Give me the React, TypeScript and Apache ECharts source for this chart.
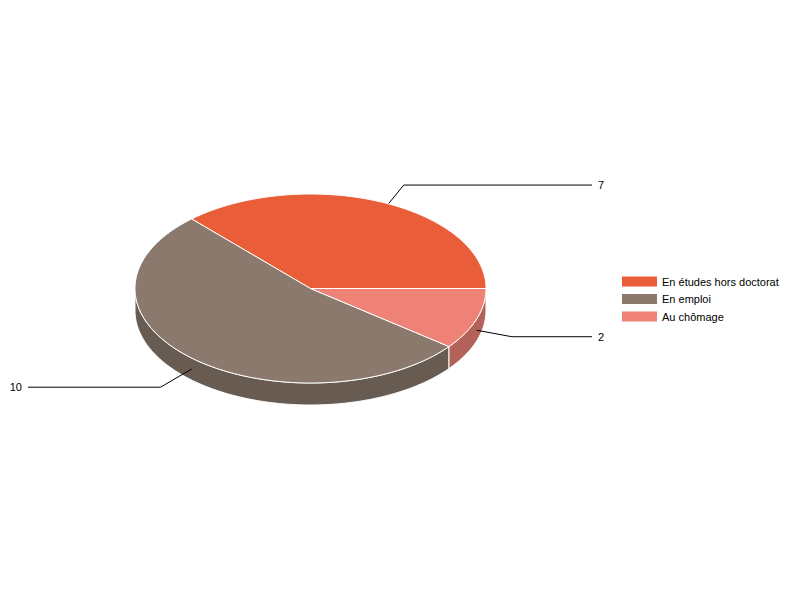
import React, { useEffect, useRef } from 'react';
import * as echarts from 'echarts';

// données
const CATEGORIES = ['En études hors doctorat', 'En emploi', 'Au chômage'];
const VALUES = [7, 10, 2];
const COLORS = ['#E95E38', '#8A796C', '#EE8276'];

// géométrie du camembert 3D (pixels)
const CX = 310.5;
const CY = 288.5;
const RX = 175.5;
const RY = 94.5;
const DEPTH = 22;
const SIDE_SHADE = 0.75;
const LEADER_LEN = 36;
const FONT = '"Liberation Sans", Arial, sans-serif';

const shade = (hex: string, k: number) => {
  const n = parseInt(hex.slice(1), 16);
  const r = Math.round(((n >> 16) & 255) * k);
  const g = Math.round(((n >> 8) & 255) * k);
  const b = Math.round((n & 255) * k);
  return `rgb(${r},${g},${b})`;
};

const rad = (d: number) => (d * Math.PI) / 180;
const pt = (deg: number, dy = 0) => [CX + RX * Math.cos(rad(deg)), CY - RY * Math.sin(rad(deg)) + dy];
const arc = (a0: number, a1: number, dy: number) => {
  const n = Math.max(2, Math.ceil(Math.abs(a1 - a0)));
  const pts: number[][] = [];
  for (let i = 0; i <= n; i++) pts.push(pt(a0 + ((a1 - a0) * i) / n, dy));
  return pts;
};

const makeRender = (index: number) => (params: any, api: any) => {
  const total = VALUES.reduce((s, v) => s + v, 0);
  const before = VALUES.slice(0, index).reduce((s, v) => s + v, 0);
  const value = api.value(0);
  const a0 = (before / total) * 360;
  const a1 = ((before + value) / total) * 360;
  const color = COLORS[index];
  const children: any[] = [];

  // face supérieure
  children.push({
    type: 'polygon',
    z2: 30,
    shape: { points: [[CX, CY], ...arc(a0, a1, 0)] },
    style: { fill: color, stroke: '#fff', lineWidth: 1 },
  });

  // paroi avant
  const lo = Math.max(a0, 180);
  const hi = Math.min(a1, 360);
  if (hi > lo) {
    children.push({
      type: 'polygon',
      z2: 10,
      shape: { points: [...arc(lo, hi, 0), ...arc(lo, hi, DEPTH).reverse()] },
      style: { fill: shade(color, SIDE_SHADE), stroke: '#fff', lineWidth: 1 },
    });
  }

  // ligne de rappel + étiquette
  const mid = (a0 + a1) / 2;
  const start = pt(mid, DEPTH / 2);
  let dx = Math.cos(rad(mid));
  let dy = -Math.sin(rad(mid)) * (RY / RX);
  const len = Math.hypot(dx, dy);
  dx /= len;
  dy /= len;
  const elbow = [start[0] + dx * LEADER_LEN, start[1] + dy * LEADER_LEN];
  const right = dx >= 0;
  const endX = right ? 592 : 28;
  children.push({
    type: 'polyline',
    z2: 20,
    shape: { points: [start, elbow, [endX, elbow[1]]] },
    style: { stroke: '#000', lineWidth: 1, fill: null },
  });
  children.push({
    type: 'text',
    z2: 20,
    x: right ? endX + 6 : endX - 6,
    y: elbow[1],
    style: {
      text: String(value),
      fill: '#000',
      fontSize: 11,
      fontFamily: FONT,
      align: right ? 'left' : 'right',
      verticalAlign: 'middle',
    },
  });

  return { type: 'group', children };
};

export default function App() {
  const ref = useRef<HTMLDivElement>(null);

  useEffect(() => {
    if (!ref.current) return;
    const chart = echarts.init(ref.current, undefined, { renderer: 'svg' });
    chart.setOption({
      animation: false,
      backgroundColor: '#fff',
      legend: {
        orient: 'vertical',
        left: 622,
        top: 276,
        padding: 0,
        icon: 'rect',
        itemWidth: 35,
        itemHeight: 10,
        itemGap: 6.5,
        data: CATEGORIES,
        textStyle: { color: '#000', fontSize: 11, fontFamily: FONT, lineHeight: 10 },
      },
      series: CATEGORIES.map((name, i) => ({
        type: 'custom',
        name,
        coordinateSystem: 'none',
        silent: true,
        itemStyle: { color: COLORS[i] },
        data: [VALUES[i]],
        renderItem: makeRender(i),
      })),
    });
    return () => chart.dispose();
  }, []);

  return <div ref={ref} style={{ position: 'absolute', left: 0, top: 0, width: 800, height: 600 }} />;
}
